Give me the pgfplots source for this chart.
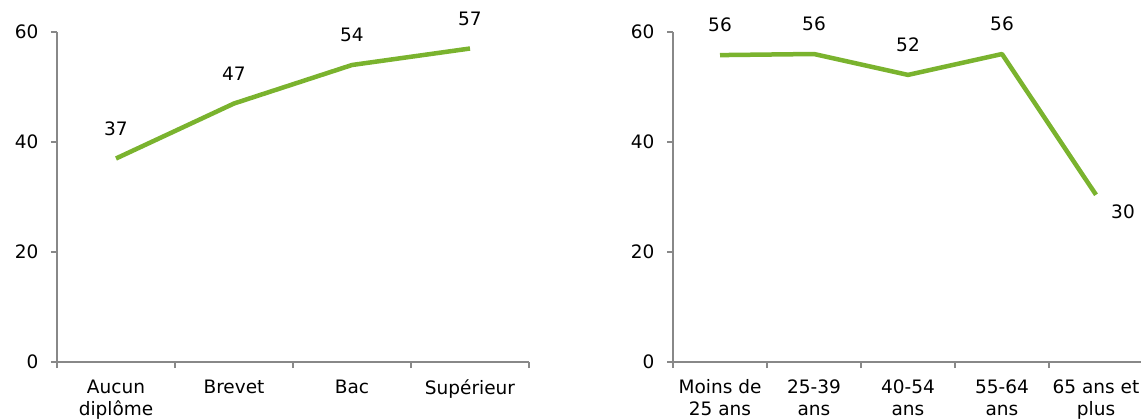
\documentclass[border=0pt]{standalone}
\usepackage{fontspec}
\setmainfont{DejaVu Sans}
\usepackage{pgfplots}
\pgfplotsset{compat=1.18}
\definecolor{lgreen}{HTML}{7AB32E}
\definecolor{axgray}{HTML}{888888}
\newcommand{\lf}{\fontsize{18.5}{22}\selectfont}
\pgfplotsset{mystyle/.style={
  scale only axis, height=330pt,
  ymin=0, ymax=60, ytick={0,20,40,60},
  axis x line=bottom, axis y line=left,
  axis line style={draw=axgray, line width=1.2pt, -},
  every tick/.style={draw=axgray, line width=1.2pt},
  tick align=outside, major tick length=6pt,
  /pgf/number format/assume math mode=true,
  tick label style={font=\lf},
  yticklabel style={xshift=-9pt},
  xticklabels={},
  extra x tick style={major tick length=0pt, xticklabel style={font=\lf, align=center, yshift=-14pt}},
  clip=false,
  point meta=explicit symbolic,
  nodes near coords,
  every node near coord/.style={anchor=center, yshift=30pt, font=\lf, text=black},
}}
\begin{document}
\begin{tikzpicture}
\useasboundingbox (0,0) rectangle (1141pt,418pt);
\clip (0,0) rectangle (1141pt,418pt);
\begin{axis}[mystyle, width=472pt, at={(57pt,56pt)}, anchor=origin,
  xmin=0.5, xmax=4.5, xtick={0.5,1.5,2.5,3.5,4.5},
  extra x ticks={1,2,3,4},
  extra x tick labels={Aucun\\diplôme, Brevet, Bac, Supérieur}]
\addplot[lgreen, line width=4.5pt, line join=round] coordinates {
  (1,37) [37] (2,47) [47] (3,54) [54] (4,57) [57]};
\end{axis}
\begin{axis}[mystyle, width=470pt, at={(673pt,56pt)}, anchor=origin,
  xmin=0.5, xmax=5.5, xtick={0.5,1.5,2.5,3.5,4.5,5.5},
  extra x ticks={1,2,3,4,5},
  extra x tick labels={Moins de\\25 ans, 25-39\\ans, 40-54\\ans, 55-64\\ans, 65 ans et\\plus}]
\addplot[lgreen, line width=4.5pt, line join=round] coordinates {
  (1,55.8) [56] (2,56) [56] (3,52.2) [52] (4,56) [56] (5,30.4) []};
\addplot[draw=none, every node near coord/.style={anchor=center, xshift=27pt, yshift=-17pt, font=\lf, text=black}] coordinates {
  (1,55.8) [] (2,56) [] (3,52.2) [] (4,56) [] (5,30.4) [30]};
\end{axis}
\end{tikzpicture}
\end{document}
